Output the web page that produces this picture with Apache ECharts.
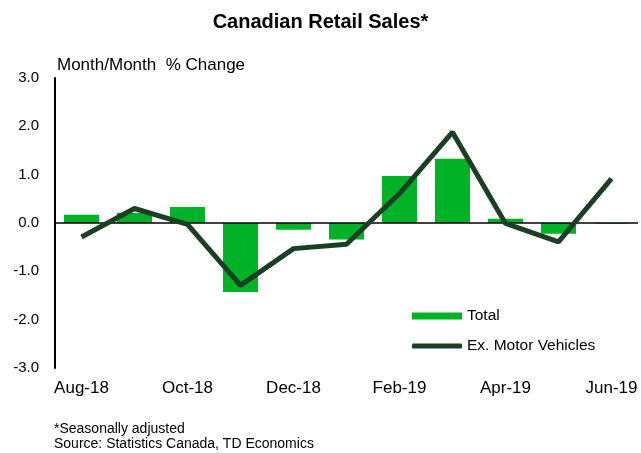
<!DOCTYPE html>
<html>
<head>
<meta charset="utf-8">
<script src="https://cdn.jsdelivr.net/npm/echarts@6/dist/echarts.min.js"></script>
<style>
  html, body { margin: 0; padding: 0; background: #fff; }
  #chart { width: 641px; height: 453px; }
</style>
</head>
<body>
<div id="chart"></div>
<script>
const months = ['Aug-18', 'Sep-18', 'Oct-18', 'Nov-18', 'Dec-18', 'Jan-19', 'Feb-19', 'Mar-19', 'Apr-19', 'May-19', 'Jun-19'];
const totalSales = [0.17, 0.21, 0.33, -1.43, -0.14, -0.34, 0.97, 1.33, 0.09, -0.22, -0.01];
const exMotorVehicles = [-0.29, 0.30, -0.03, -1.29, -0.53, -0.44, 0.61, 1.88, -0.01, -0.39, 0.92];

const font = 'Liberation Sans, Arial, sans-serif';
const barColor = '#00b226';
const lineColor = '#1a3f24';
const chart = echarts.init(document.getElementById('chart'));

chart.setOption({
  animation: false,
  textStyle: { fontFamily: font, color: '#000' },
  title: {
    text: 'Canadian Retail Sales*', left: 'center', top: 7,
    textStyle: { fontSize: 20, fontWeight: 'bold', color: '#000', fontFamily: font }
  },
  graphic: [
    { type: 'text', left: 57, top: 57, style: { text: 'Month/Month  % Change', font: '17px ' + font, fill: '#000' } },
    { type: 'text', left: 54, top: 422, style: { text: '*Seasonally adjusted', font: '14px ' + font, fill: '#000' } },
    { type: 'text', left: 54, top: 437, style: { text: 'Source: Statistics Canada, TD Economics', font: '14px ' + font, fill: '#000' } }
  ],
  legend: [
    {
      left: 407, top: 303, itemWidth: 50, itemHeight: 7, itemGap: 6,
      textStyle: { fontSize: 15.5, color: '#000', fontFamily: font },
      data: [{ name: 'Total', icon: 'rect' }]
    },
    {
      left: 407, top: 333, itemWidth: 50, itemHeight: 5,
      textStyle: { fontSize: 15.5, color: '#000', fontFamily: font },
      data: [{ name: 'Ex. Motor Vehicles', icon: 'roundRect', itemStyle: { color: lineColor } }]
    }
  ],
  grid: { left: 55, right: 3, top: 78, bottom: 85 },
  xAxis: {
    type: 'category', data: months,
    axisLine: { show: false }, axisTick: { show: false },
    axisLabel: { interval: 1, fontSize: 17, color: '#000', margin: 12 }
  },
  yAxis: {
    type: 'value', min: -3, max: 3, interval: 1,
    axisLine: { show: true, lineStyle: { color: '#000', width: 2 } },
    axisTick: { show: false }, splitLine: { show: false },
    axisLabel: { fontSize: 15, color: '#000', margin: 16, formatter: v => v.toFixed(1) }
  },
  series: [
    {
      name: 'Total', type: 'bar', data: totalSales, barCategoryGap: '34%',
      itemStyle: { color: barColor },
      markLine: {
        silent: true, symbol: 'none', label: { show: false },
        lineStyle: { color: '#000', width: 1.5, type: 'solid' },
        data: [{ yAxis: 0 }]
      }
    },
    {
      name: 'Ex. Motor Vehicles', type: 'line', data: exMotorVehicles,
      symbol: 'none', z: 5,
      lineStyle: { color: lineColor, width: 5 },
      itemStyle: { color: lineColor }
    }
  ]
});
</script>
</body>
</html>
